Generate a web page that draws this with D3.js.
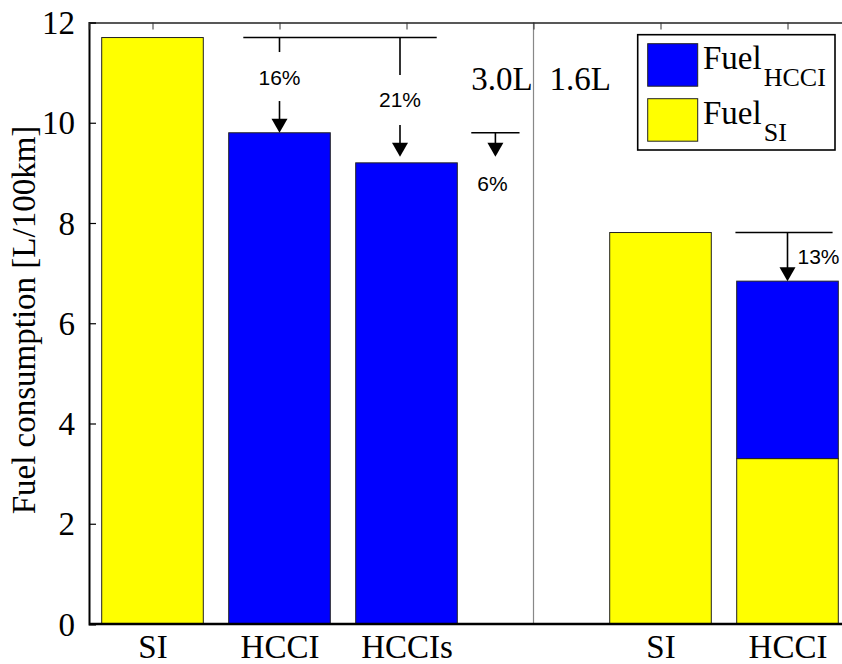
<!DOCTYPE html>
<html>
<head>
<meta charset="utf-8">
<script src="https://cdn.jsdelivr.net/npm/d3@7"></script>
<style>
  html, body { margin: 0; padding: 0; background: #fff; }
  svg { display: block; }
</style>
</head>
<body>
<svg id="chart" width="842" height="664"></svg>
<script>
// ---- data ----
const categories = ["SI", "HCCI", "HCCIs", "", "SI", "HCCI"];
const fuelSI     = [11.7, 0,   0,   0, 7.81, 3.30];
const fuelHCCI   = [0,    9.8, 9.2, 0, 0,    3.54];
const yTicks     = [0, 2, 4, 6, 8, 10, 12];
const legendLabels = [["Fuel", "HCCI"], ["Fuel", "SI"]];
const engineLabels = ["3.0L", "1.6L"];
// reductions: reference level, target level, label
const reductions = [
  { ref: 11.7, target: 9.8,  label: "16%" },
  { ref: 11.7, target: 9.2,  label: "21%" },
  { ref: 9.8,  target: 9.2,  label: "6%"  },
  { ref: 7.81, target: 6.84, label: "13%" }
];

// ---- layout ----
const svg = d3.select("#chart");
const plotLeft = 89, plotBottom = 624, plotTop = 22.5;
const step = 127;
const x = d3.scaleLinear().domain([0.5, 6.5]).range([plotLeft, plotLeft + 6 * step]);
const y = d3.scaleLinear().domain([0, 12]).range([plotBottom, plotTop]);
const barW = step * 0.8;
const serif = "'Liberation Serif', 'Times New Roman', serif";
const sans = "'Liberation Sans', Arial, sans-serif";
const colors = { si: "#ffff00", hcci: "#0000ff" };

const table = categories.map((c, i) => ({ pos: i + 1, si: fuelSI[i], hcci: fuelHCCI[i] }));
const stacked = d3.stack().keys(["si", "hcci"])(table);

// bars
stacked.forEach(layer => {
  svg.append("g").selectAll("rect")
    .data(layer.filter(d => d[1] - d[0] > 0))
    .join("rect")
    .attr("x", d => x(d.data.pos) - barW / 2)
    .attr("width", barW)
    .attr("y", d => y(d[1]))
    .attr("height", d => y(d[0]) - y(d[1]))
    .attr("fill", colors[layer.key])
    .attr("stroke", "#222")
    .attr("stroke-width", 1);
});

// separator line between engines
svg.append("line")
  .attr("x1", x(4)).attr("x2", x(4))
  .attr("y1", y(12)).attr("y2", y(0))
  .attr("stroke", "#888").attr("stroke-width", 1.2);

// axes
const yAxis = d3.axisLeft(y).tickValues(yTicks).tickSize(-7).tickPadding(14).tickFormat(d3.format("d"));
const gy = svg.append("g").attr("transform", `translate(${plotLeft},0)`).call(yAxis);
gy.select(".domain").attr("stroke", "#000").attr("stroke-width", 2);
gy.selectAll(".tick line").attr("stroke", "#000").attr("stroke-width", 1.2);
gy.selectAll("text").attr("font-family", serif).attr("font-size", 33).attr("fill", "#000").attr("dy", "0.34em");

const xAxis = d3.axisBottom(x).tickValues(d3.range(1, 7)).tickSize(0).tickPadding(8)
  .tickFormat(d => categories[d - 1]);
const gx = svg.append("g").attr("transform", `translate(0,${plotBottom})`).call(xAxis);
gx.select(".domain").remove();
gx.selectAll("text").attr("font-family", serif).attr("font-size", 33).attr("fill", "#000").attr("dy", "0.78em");
svg.append("line").attr("x1", plotLeft).attr("x2", 842).attr("y1", plotBottom).attr("y2", plotBottom)
  .attr("stroke", "#000").attr("stroke-width", 2.5);

// top axis with inward ticks
const xTop = d3.axisTop(x).tickValues(d3.range(1, 7)).tickSize(-7).tickFormat("");
const gt = svg.append("g").attr("transform", `translate(0,${y(12)})`).call(xTop);
gt.select(".domain").attr("stroke", "#222").attr("stroke-width", 1.3);
gt.selectAll(".tick line").attr("stroke", "#333");

// y label
svg.append("text")
  .attr("transform", `translate(35,320) rotate(-90)`)
  .attr("text-anchor", "middle")
  .attr("font-family", serif).attr("font-size", 33)
  .text("Fuel consumption [L/100km]");

// engine labels
svg.append("text").attr("x", x(3.51)).attr("y", 90)
  .attr("font-family", serif).attr("font-size", 33).text(engineLabels[0]);
svg.append("text").attr("x", x(4.125)).attr("y", 89.5)
  .attr("font-family", serif).attr("font-size", 33).text(engineLabels[1]);

// reductions annotations
function hline(v, a, b) {
  svg.append("line").attr("x1", x(a)).attr("x2", x(b)).attr("y1", y(v)).attr("y2", y(v))
    .attr("stroke", "#000").attr("stroke-width", 1.6);
}
function stem(px, y1, y2) {
  svg.append("line").attr("x1", px).attr("x2", px).attr("y1", y1).attr("y2", y2)
    .attr("stroke", "#000").attr("stroke-width", 1.6);
}
function head(px, tipY) {
  svg.append("path")
    .attr("d", `M${px - 8},${tipY - 14}L${px + 8},${tipY - 14}L${px},${tipY}Z`)
    .attr("fill", "#000");
}
function pct(px, py, t, anchor) {
  svg.append("text").attr("x", px).attr("y", py).attr("dy", "0.36em")
    .attr("text-anchor", anchor || "middle")
    .attr("font-family", sans).attr("font-size", 21).text(t);
}

// 16% and 21% (share one reference line)
hline(reductions[0].ref, 1.715, 3.238);
{
  const r = reductions[0], px = x(2);
  const y0 = y(r.ref), tip = y(r.target);
  stem(px, y0, y0 + 14.5);
  pct(px, y0 + 39.5, r.label);
  stem(px, y0 + 63.5, tip - 13);
  head(px, tip);
}
{
  const r = reductions[1], px = x(3) - 6.5;
  const y0 = y(r.ref), tip = y(r.target) - 6;
  stem(px, y0, y0 + 37.5);
  pct(px, y0 + 62, r.label);
  stem(px, y0 + 87.5, tip - 13);
  head(px, tip);
}
{
  const r = reductions[2], px = x(3.7);
  const y0 = y(r.ref), tip = y(r.target) - 6;
  hline(r.ref, 3.51, 3.89);
  stem(px, y0, tip - 13);
  head(px, tip);
  pct(px - 3, tip + 26.5, r.label);
}
{
  const r = reductions[3], px = x(6);
  const y0 = y(r.ref), tip = y(r.target);
  hline(r.ref, 5.59, 6.355);
  stem(px, y0, tip - 13);
  head(px, tip);
  pct(px + 10, y0 + 23.5, r.label, "start");
}

// legend
const lg = svg.append("g");
lg.append("rect").attr("x", 637.7).attr("y", 34.7).attr("width", 197.3).attr("height", 115.3)
  .attr("fill", "#fff").attr("stroke", "#000").attr("stroke-width", 1.6);
const legendColors = [colors.hcci, colors.si];
legendLabels.forEach((lab, i) => {
  const yy = 43.7 + i * 55;
  lg.append("rect").attr("x", 647.7).attr("y", yy).attr("width", 50).attr("height", 42.5)
    .attr("fill", legendColors[i]).attr("stroke", "#222").attr("stroke-width", 1);
  const t = lg.append("text").attr("x", 703).attr("y", yy + 25.5)
    .attr("font-family", serif).attr("font-size", 33);
  t.append("tspan").text(lab[0]);
  t.append("tspan").attr("dx", 2).attr("dy", 17).attr("font-size", 26).text(lab[1]);
});
</script>
</body>
</html>
